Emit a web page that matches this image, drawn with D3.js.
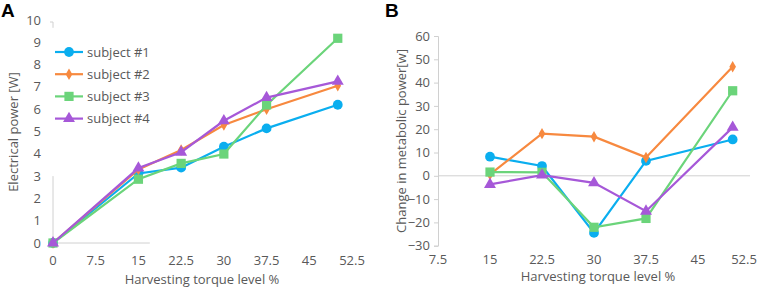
<!DOCTYPE html>
<html>
<head>
<meta charset="utf-8">
<script src="https://cdn.jsdelivr.net/npm/d3@7"></script>
<style>
  body { margin: 0; background: white; }
  text { font-family: "Open Sans", sans-serif; fill: #595959; }
</style>
</head>
<body>
<div id="chart"></div>
<script>
const seriesNames = ["subject #1", "subject #2", "subject #3", "subject #4"];
const colors = ["#0AAEEF", "#F7893F", "#6BD47A", "#A658D8"];
const shapes = [d3.symbolCircle, d3.symbolDiamond, d3.symbolSquare, d3.symbolTriangle];

// Panel A: electrical power
const torqueA = [0, 15, 22.5, 30, 37.5, 50];
const powerA = [
  [0, 3.12, 3.38, 4.32, 5.14, 6.2],
  [0, 3.3, 4.17, 5.29, 6.0, 7.05],
  [0, 2.86, 3.57, 3.99, 6.19, 9.18],
  [0, 3.36, 4.07, 5.48, 6.52, 7.25]
];
const xTicksA = [0, 7.5, 15, 22.5, 30, 37.5, 45, 52.5];
const yTicksA = [0, 1, 2, 3, 4, 5, 6, 7, 8, 9, 10];

// Panel B: change in metabolic power
const torqueB = [15, 22.5, 30, 37.5, 50];
const metabB = [
  [8.2, 4.2, -24.5, 6.4, 15.6],
  [0.6, 18.1, 16.8, 7.9, 46.8],
  [1.6, 1.5, -22.1, -18.3, 36.5],
  [-3.7, 0.3, -3.0, -15.2, 20.8]
];
const xTicksB = [7.5, 15, 22.5, 30, 37.5, 45, 52.5];
const yTicksB = [-30, -20, -10, 0, 10, 20, 30, 40, 50, 60];

const width = 761, height = 287;
const fs = "13px";
const svg = d3.select("#chart").append("svg")
  .attr("width", width)
  .attr("height", height);

const symSize = [75, 38, 85, 62];

function drawLines(g, x, y, xs, data) {
  data.forEach((vals, i) => {
    const pts = xs.map((t, j) => [t, vals[j]]);
    g.append("path")
      .datum(pts)
      .attr("fill", "none")
      .attr("stroke", colors[i])
      .attr("stroke-width", 2.2)
      .attr("d", d3.line().x(d => x(d[0])).y(d => y(d[1])));
    g.selectAll(".m" + i)
      .data(pts)
      .enter()
      .append("path")
      .attr("transform", d => `translate(${x(d[0])},${y(d[1])})`)
      .attr("d", d3.symbol().type(shapes[i]).size(symSize[i]))
      .attr("fill", colors[i]);
  });
}

// ---------- Panel A ----------
const xA = d3.scaleLinear().domain([0, 52.5]).range([53, 352]);
const yA = d3.scaleLinear().domain([0, 10]).range([243, 20]);
const gA = svg.append("g");

// partial axis lines (as in the original figure)
gA.append("line")
  .attr("x1", xA(0)).attr("x2", xA(0))
  .attr("y1", yA(3)).attr("y2", yA(0))
  .attr("stroke", "#d0d0d0");
gA.append("line")
  .attr("x1", xA(0)).attr("x2", xA(17))
  .attr("y1", yA(0)).attr("y2", yA(0))
  .attr("stroke", "#d0d0d0");
gA.append("path")
  .attr("d", `M${xA(0) - 3},${yA(10) + 2}H${xA(0)}V${yA(9.65)}`)
  .attr("fill", "none")
  .attr("stroke", "#d0d0d0");

// tick labels
gA.selectAll(".ytA")
  .data(yTicksA)
  .enter()
  .append("text")
  .attr("x", xA(0) - 12)
  .attr("y", d => yA(d))
  .attr("dy", "0.35em")
  .attr("text-anchor", "end")
  .style("font-size", fs)
  .text(d => d);

gA.selectAll(".xtA")
  .data(xTicksA)
  .enter()
  .append("text")
  .attr("x", d => xA(d))
  .attr("y", 265)
  .attr("text-anchor", "middle")
  .style("font-size", fs)
  .text(d => d);

gA.append("text")
  .attr("x", 202)
  .attr("y", 284)
  .attr("text-anchor", "middle")
  .style("font-size", fs)
  .text("Harvesting torque level %");

gA.append("text")
  .attr("transform", "rotate(-90)")
  .attr("x", -132)
  .attr("y", 18)
  .attr("text-anchor", "middle")
  .style("font-size", fs)
  .text("Electrical power [W]");

drawLines(gA, xA, yA, torqueA, powerA);

// legend
const leg = gA.append("g");
seriesNames.forEach((name, i) => {
  const ly = 52 + i * 22.2;
  leg.append("line")
    .attr("x1", 55).attr("x2", 83)
    .attr("y1", ly).attr("y2", ly)
    .attr("stroke", colors[i])
    .attr("stroke-width", 2.2);
  leg.append("path")
    .attr("transform", `translate(69,${ly})`)
    .attr("d", d3.symbol().type(shapes[i]).size(symSize[i]))
    .attr("fill", colors[i]);
  leg.append("text")
    .attr("x", 87)
    .attr("y", ly)
    .attr("dy", "0.35em")
    .style("font-size", fs)
    .text(name);
});

svg.append("text")
  .attr("x", 1)
  .attr("y", 17)
  .style("font-family", "Liberation Sans, Arial, sans-serif")
  .style("font-size", "19px")
  .style("font-weight", "bold")
  .style("fill", "#000")
  .text("A");

// ---------- Panel B ----------
const xB = d3.scaleLinear().domain([7.5, 52.5]).range([438, 750]);
const yB = d3.scaleLinear().domain([-30, 60]).range([245.7, 36]);
const gB = svg.append("g");

gB.append("g")
  .attr("transform", `translate(${xB(7.5)},0)`)
  .call(d3.axisLeft(yB).tickValues(yTicksB).tickSize(4).tickPadding(4))
  .call(g => g.select(".domain").attr("stroke", "#d0d0d0"))
  .call(g => g.selectAll(".tick line").attr("stroke", "#d0d0d0"))
  .call(g => g.selectAll(".tick text")
    .style("font-size", fs)
    .style("font-family", "Open Sans, sans-serif")
    .attr("fill", "#595959"));

gB.append("line")
  .attr("x1", xB(7.5)).attr("x2", xB(52.5))
  .attr("y1", yB(0)).attr("y2", yB(0))
  .attr("stroke", "#d0d0d0");

gB.selectAll(".xtB")
  .data(xTicksB)
  .enter()
  .append("text")
  .attr("x", d => Math.min(xB(d), 744))
  .attr("y", 264)
  .attr("text-anchor", "middle")
  .style("font-size", fs)
  .text(d => d);

gB.append("text")
  .attr("x", 598)
  .attr("y", 281)
  .attr("text-anchor", "middle")
  .style("font-size", fs)
  .text("Harvesting torque level %");

gB.append("text")
  .attr("transform", "rotate(-90)")
  .attr("x", -141)
  .attr("y", 406)
  .attr("text-anchor", "middle")
  .style("font-size", fs)
  .text("Change in metabolic power[w]");

drawLines(gB, xB, yB, torqueB, metabB);

svg.append("text")
  .attr("x", 385)
  .attr("y", 17)
  .style("font-family", "Liberation Sans, Arial, sans-serif")
  .style("font-size", "19px")
  .style("font-weight", "bold")
  .style("fill", "#000")
  .text("B");
</script>
</body>
</html>
